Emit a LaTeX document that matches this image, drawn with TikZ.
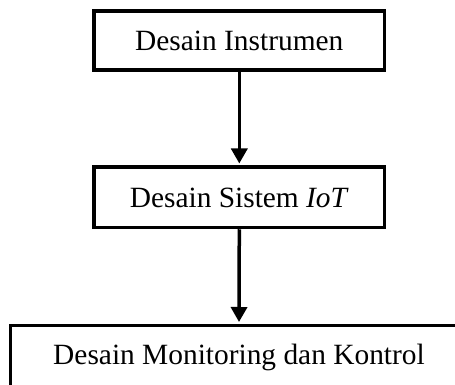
\documentclass[tikz,border=0pt]{standalone}
\usepackage{fontspec}
\setmainfont{Liberation Serif}
\usetikzlibrary{arrows.meta}
\begin{document}
\begin{tikzpicture}[x=1pt,y=-1pt,
  stepbox/.style={draw=black,line width=3.5pt,inner sep=0pt,fill=white,
    font=\fontsize{29.4}{34}\selectfont,text height=19.5pt,text depth=0pt},
  arr/.style={line width=3.5pt,-{Triangle[width=16pt,length=15pt]},shorten >=1.75pt}]
\useasboundingbox (0,0) rectangle (455,385);
\clip (0,0) rectangle (455,385);
\fill[white] (0,0) rectangle (455,385);
\node[stepbox,minimum width=290.7pt,minimum height=59pt] (b1) at (239.3,40.5) {Desain Instrumen};
\node[stepbox,minimum width=290.7pt,minimum height=60.5pt] (b2) at (239.3,197.25) {Desain Sistem \textit{IoT}};
\node[stepbox,minimum width=456.6pt,minimum height=69pt,text depth=11.5pt] (b3) at (239,360) {Desain Monitoring dan Kontrol};
\draw[arr] (b1.south) -- (b2.north);
\draw[arr] (b2.south) -- (b3.north);
\end{tikzpicture}
\end{document}
